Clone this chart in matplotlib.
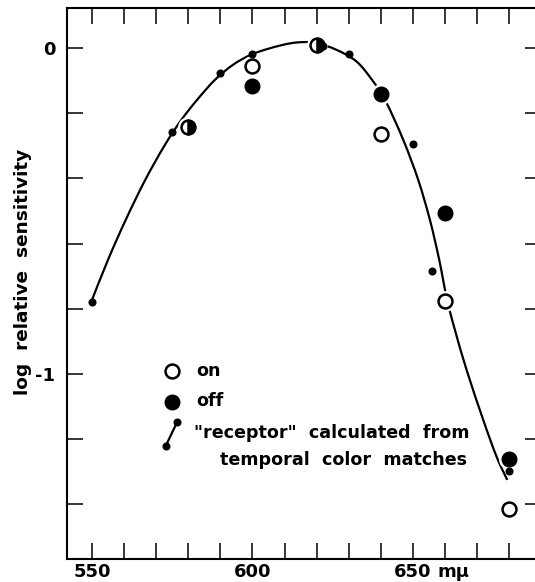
import matplotlib
matplotlib.use("Agg")
import matplotlib.pyplot as plt
from matplotlib.path import Path
from matplotlib.patches import PathPatch
from matplotlib.transforms import ScaledTranslation

# Receptor curve, traced as (wavelength in m-mu, log relative sensitivity)
curve_wl = [549.91, 554.98, 560.47, 566.57, 572.68, 577.82, 582.68, 588.29, 593.89, 599.50,
            605.45, 611.68, 616.36, 620.00, 626.23, 632.46, 637.63, 641.59, 646.98, 651.65,
            655.30, 658.19, 660.59, 663.08, 666.73, 671.90, 676.07, 679.38]
curve_val = [-0.775, -0.650, -0.528, -0.405, -0.298, -0.221, -0.160, -0.098, -0.052, -0.021,
             -0.001, 0.014, 0.018, 0.015, -0.006, -0.042, -0.103, -0.165, -0.282, -0.405,
             -0.528, -0.650, -0.771, -0.865, -0.988, -1.141, -1.254, -1.325]

# "on" responses (open circles)
on_wl = [600, 640, 660, 680]
on_val = [-0.055, -0.265, -0.775, -1.415]

# "off" responses (filled circles)
off_wl = [600, 640, 660, 680]
off_val = [-0.118, -0.142, -0.505, -1.260]

# wavelengths where on and off coincide (half-filled circles)
both_wl = [580, 620]
both_val = [-0.243, 0.008]

# "receptor" calculated from temporal color matches (small dots)
rec_wl = [550, 575, 590, 600, 622, 630, 650, 655.8, 680]
rec_val = [-0.779, -0.258, -0.077, -0.020, 0.006, -0.018, -0.296, -0.685, -1.298]

x_ticks = list(range(550, 681, 10))
x_tick_labels = {550: "550", 600: "600", 650: "650"}
y_ticks = [0.0, -0.2, -0.4, -0.6, -0.8, -1.0, -1.2, -1.4]
y_tick_labels = {0.0: "0", -1.0: "-1"}

plt.rcParams["font.family"] = ["DejaVu Sans"]
plt.rcParams["font.weight"] = "bold"

W, H = 535, 582
fig = plt.figure(figsize=(W / 100, H / 100), dpi=100)

# axes box in pixels: left 66.5, right 541 (runs past the edge), top 7.5, bottom 558.5
ax = fig.add_axes([66.5 / W, (H - 558.5) / H, (541 - 66.5) / W, (558.5 - 7.5) / H])
ax.set_xlim(542.05, 689.9)
ax.set_ylim(-1.566, 0.124)

for s in ax.spines.values():
    s.set_linewidth(1.5)

ax.set_xticks(x_ticks)
ax.set_xticklabels([x_tick_labels.get(t, "") for t in x_ticks])
ax.set_yticks(y_ticks)
ax.set_yticklabels([y_tick_labels.get(t, "") for t in y_ticks])
ax.tick_params(direction="in", length=11.5, width=1.1, top=True, right=True,
               labelsize=13)
ax.tick_params(axis="x", pad=3)
ax.tick_params(axis="y", pad=8)

# unit written after the 650 label, on the same line as the tick labels
unit_tr = ax.get_xaxis_transform() + ScaledTranslation(0, -3 / 72, fig.dpi_scale_trans)
ax.text(662.6, 0, "m\u03bc", transform=unit_tr, ha="center", va="top",
        fontsize=13, fontweight="bold")

ax.set_ylabel("log  relative  sensitivity", fontsize=13.3, fontweight="bold")
ax.yaxis.set_label_coords(-0.072, 0.52)


# smooth receptor curve: Catmull-Rom spline through the traced points, as cubic Beziers
def smooth_path(xs, ys):
    pts = list(zip(xs, ys))
    n = len(pts)
    verts = [pts[0]]
    codes = [Path.MOVETO]
    for i in range(n - 1):
        p0 = pts[i - 1] if i > 0 else pts[i]
        p1 = pts[i]
        p2 = pts[i + 1]
        p3 = pts[i + 2] if i + 2 < n else pts[i + 1]
        c1 = (p1[0] + (p2[0] - p0[0]) / 6, p1[1] + (p2[1] - p0[1]) / 6)
        c2 = (p2[0] - (p3[0] - p1[0]) / 6, p2[1] - (p3[1] - p1[1]) / 6)
        verts += [c1, c2, p2]
        codes += [Path.CURVE4] * 3
    return Path(verts, codes)


ax.add_patch(PathPatch(smooth_path(curve_wl, curve_val), fill=False, edgecolor="black",
                       lw=1.6, zorder=2, capstyle="butt"))

# white halos that break the curve around the large circles
halo_wl = on_wl + off_wl + both_wl
halo_val = on_val + off_val + both_val
ax.plot(halo_wl, halo_val, ls="none", marker="o", ms=15, mfc="white", mec="none", zorder=3)

ax.plot(on_wl, on_val, ls="none", marker="o", ms=10, mfc="white", mec="black", mew=1.8, zorder=4)
ax.plot(off_wl, off_val, ls="none", marker="o", ms=10.5, mfc="black", mec="black", zorder=4)
ax.plot(both_wl, both_val, ls="none", marker="o", ms=10, fillstyle="right",
        mfc="black", markerfacecoloralt="white", mec="black", mew=1.8, zorder=4)
ax.plot(rec_wl, rec_val, ls="none", marker="o", ms=4.8, mfc="black", mec="black", zorder=5)


# key
def px(x, y):
    return ((x - 66.5) / 474.5, (558.5 - y) / 551.0)


kx, ky = px(171.7, 370.7)
ax.plot([kx], [ky], transform=ax.transAxes, marker="o", ms=10, mfc="white",
        mec="black", mew=1.8, clip_on=False)
kx, ky = px(171.7, 401.7)
ax.plot([kx], [ky], transform=ax.transAxes, marker="o", ms=10.5, mfc="black",
        mec="black", clip_on=False)
(a0, b0), (a1, b1) = px(165.7, 446.0), px(177.3, 421.7)
ax.plot([a0, a1], [b0, b1], transform=ax.transAxes, color="black", lw=1.6,
        marker="o", ms=4.8, clip_on=False)

key_fs = 12.6
tx, ty = px(196, 370.5)
ax.text(tx, ty, "on", transform=ax.transAxes, ha="left", va="center", fontsize=key_fs)
tx, ty = px(196, 401.0)
ax.text(tx, ty, "off", transform=ax.transAxes, ha="left", va="center", fontsize=key_fs)
tx, ty = px(469, 433.0)
ax.text(tx, ty, "\"receptor\"  calculated  from", transform=ax.transAxes,
        ha="right", va="center", fontsize=key_fs)
tx, ty = px(467, 459.7)
ax.text(tx, ty, "temporal  color  matches", transform=ax.transAxes,
        ha="right", va="center", fontsize=key_fs)

fig.savefig("out.png", dpi=100)
